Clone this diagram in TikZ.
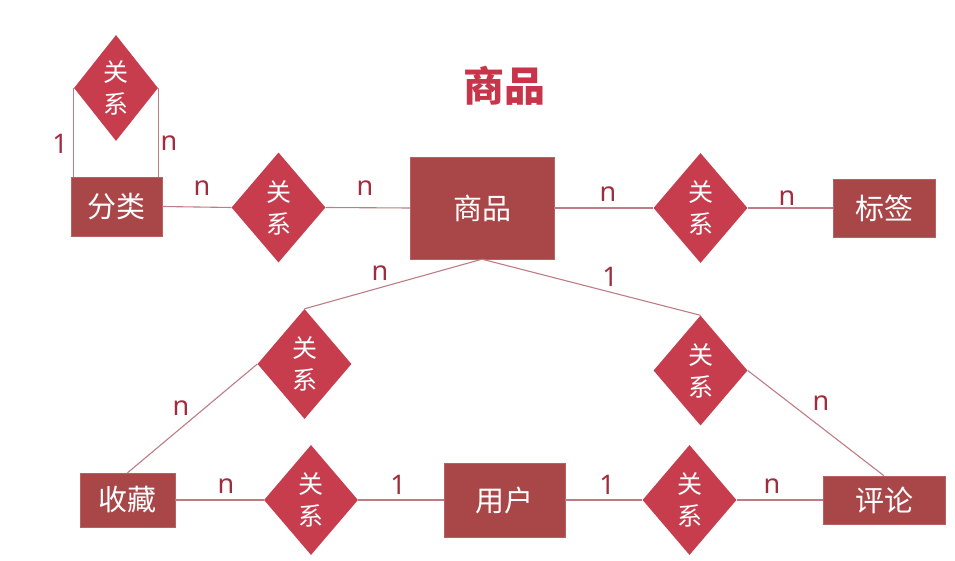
\documentclass[tikz,border=0pt]{standalone}
\usepackage{fontspec}
\setmainfont{Noto Sans}
\newfontfamily\cjk{Noto Sans CJK SC}
\usetikzlibrary{shapes.geometric}
\definecolor{entityfill}{RGB}{169,70,72}
\definecolor{relfill}{RGB}{199,61,78}
\definecolor{linkcol}{RGB}{190,125,133}
\definecolor{cardcol}{RGB}{160,45,62}
\definecolor{titlecol}{RGB}{200,52,74}
\tikzset{
  entity/.style={draw=entityfill!85!white, fill=entityfill, text=white, inner sep=0pt,
    font=\cjk\fontsize{29}{32}\selectfont},
  rel/.style={diamond, fill=relfill, text=white, inner sep=0pt, aspect=0.855,
    minimum width=94pt, minimum height=110pt, align=center,
    font=\cjk\fontsize{25}{32}\selectfont},
  link/.style={draw=linkcol, line width=1.1pt},
  card/.style={text=cardcol, inner sep=0pt, font=\fontsize{27}{30}\selectfont},
}
\begin{document}
\begin{tikzpicture}[x=1pt, y=-1pt]
\useasboundingbox[fill=white] (0,0) rectangle (955,561);

% title
\node[text=titlecol, font=\cjk\bfseries\fontsize{41}{44}\selectfont] (title) at (504,86) {商品};

% entities
\node[entity, minimum width=91pt, minimum height=59pt] (cat) at (116.5,206.5) {分类};
\node[entity, minimum width=144pt, minimum height=102pt] (goods) at (482,208) {商品};
\node[entity, minimum width=102pt, minimum height=58pt] (tag) at (884,208) {标签};
\node[entity, minimum width=95pt, minimum height=54pt] (fav) at (127.5,500) {收藏};
\node[entity, minimum width=121pt, minimum height=74pt] (user) at (504.5,500) {用户};
\node[entity, minimum width=122pt, minimum height=48pt] (cmt) at (884,500) {评论};

% relationships
\node[rel, minimum width=84pt, minimum height=106pt, aspect=0.79] (rself) at (116,88) {关\\系};
\node[rel] (rcat) at (278.5,207.5) {关\\系};
\node[rel] (rtag) at (700.5,208) {关\\系};
\node[rel] (rfav) at (304.5,364) {关\\系};
\node[rel] (rcmt) at (700.5,370.5) {关\\系};
\node[rel] (rufav) at (311,500) {关\\系};
\node[rel] (rucmt) at (689.5,500) {关\\系};

% connectors
\draw[link] (rself.west) -- (rself.west |- cat.north);
\draw[link] (rself.east) -- (rself.east |- cat.north);
\draw[link] (cat.east) -- (rcat.west);
\draw[link] (rcat.east) -- (goods.west);
\draw[link] (goods.east) -- (rtag.west);
\draw[link] (rtag.east) -- (tag.west);
\draw[link] (goods.south) -- (rfav.north);
\draw[link] (goods.south) -- (rcmt.north);
\draw[link] (rfav.west) -- (fav.north);
\draw[link] (rcmt.east) -- (cmt.north);
\draw[link] (fav.east) -- (rufav.west);
\draw[link] (rufav.east) -- (user.west);
\draw[link] (user.east) -- (rucmt.west);
\draw[link] (rucmt.east) -- (cmt.west);

% cardinalities
\node[card] (c1) at (60,144) {1};
\node[card] (c2) at (169,143) {n};
\node[card] (c3) at (202,188) {n};
\node[card] (c4) at (365,188) {n};
\node[card] (c5) at (608,194) {n};
\node[card] (c6) at (787,198) {n};
\node[card] (c7) at (380,273) {n};
\node[card] (c8) at (610,277) {1};
\node[card] (c9) at (181,408) {n};
\node[card] (c10) at (821,403) {n};
\node[card] (c11) at (226,486) {n};
\node[card] (c12) at (398,485) {1};
\node[card] (c13) at (607,485) {1};
\node[card] (c14) at (772,486) {n};
\end{tikzpicture}
\end{document}
